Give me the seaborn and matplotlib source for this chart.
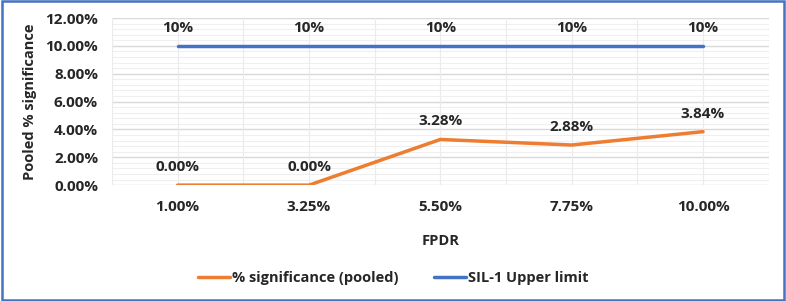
import pandas as pd
import numpy as np
import matplotlib
matplotlib.use('Agg')
import matplotlib.pyplot as plt
import seaborn as sns
from matplotlib.ticker import MultipleLocator, FuncFormatter
from matplotlib.patches import Rectangle

sns.set_style('white')
plt.rcParams['font.family'] = ['Open Sans', 'DejaVu Sans']
plt.rcParams['font.weight'] = 'bold'

# 数据
fpdr = ['1.00%', '3.25%', '5.50%', '7.75%', '10.00%']
pooled = [0.00, 0.00, 3.28, 2.88, 3.84]
upper = [10, 10, 10, 10, 10]

df = pd.DataFrame({'fpdr': fpdr, 'pos': range(len(fpdr)),
                   'pooled': pooled, 'upper': upper})

fig = plt.figure(figsize=(7.86, 3.01), dpi=100)
ax = fig.add_axes([0.1425, 0.385, 0.8355, 0.555])

# 网格：主/次
for y in np.arange(0, 12.01, 0.4):
    major = abs(y / 2 - round(y / 2)) < 1e-6
    ax.axhline(y, color='#D9D9D9' if major else '#EFEFEF',
               linewidth=1.0 if major else 0.8, zorder=0)
for x in np.arange(-0.5, 4.51, 0.5):
    ax.axvline(x, color='#EBEBEB', linewidth=0.8, zorder=0)

sns.lineplot(data=df, x='pos', y='pooled', color='#ED7D31', linewidth=2.5,
             ax=ax, label='% significance (pooled)', zorder=3)
sns.lineplot(data=df, x='pos', y='upper', color='#4472C4', linewidth=2.5,
             ax=ax, label='SIL-1 Upper limit', zorder=3)

for i, v in enumerate(pooled):
    ax.text(i, v + 0.8, f'{v:.2f}%', ha='center', va='bottom',
            fontsize=11, fontweight='bold')
for i, v in enumerate(upper):
    ax.text(i, v + 0.8, f'{v:.0f}%', ha='center', va='bottom',
            fontsize=11, fontweight='bold')

ax.set_xlim(-0.5, 4.5)
ax.set_ylim(0, 12)
ax.yaxis.set_major_locator(MultipleLocator(2))
ax.yaxis.set_major_formatter(FuncFormatter(lambda v, p: f'{v:.2f}%'))
ax.set_xticks(range(len(fpdr)))
ax.set_xticklabels(fpdr)
ax.tick_params(axis='both', length=0, labelsize=11, pad=11)
ax.tick_params(axis='y', pad=10)
for lab in ax.get_xticklabels() + ax.get_yticklabels():
    lab.set_fontweight('bold')
for s in ax.spines.values():
    s.set_visible(False)

ax.set_xlabel('FPDR', fontsize=10.5, fontweight='bold', labelpad=14)
ax.set_ylabel('Pooled % significance', fontsize=10.5, fontweight='bold', labelpad=6)

ax.get_legend().remove()
h, l = ax.get_legend_handles_labels()
fig.legend(h, l, loc='center', bbox_to_anchor=(0.5, 0.075), ncol=2,
           frameon=False, handlelength=2.2, handletextpad=0.15,
           columnspacing=2.4, prop={'weight': 'bold', 'size': 10.5})

# 外边框
fig.patches.append(Rectangle((0.002, 0.003), 0.996, 0.994, transform=fig.transFigure,
                             fill=False, edgecolor='#4472C4', linewidth=1.8))

fig.savefig('out.png', dpi=100)
plt.close()
